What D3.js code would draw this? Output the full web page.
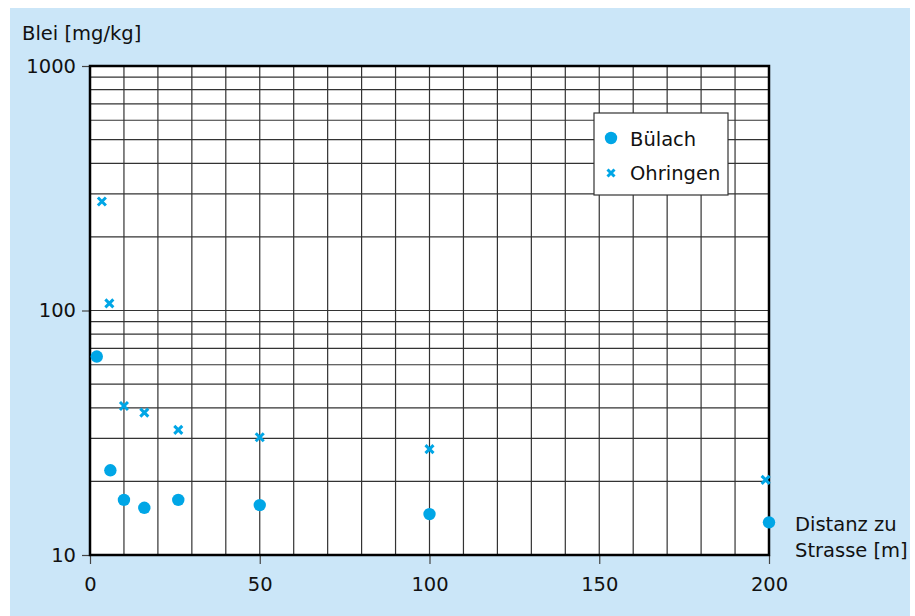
<!DOCTYPE html>
<html>
<head>
    <meta charset="UTF-8" />
    <style>
        body { margin: 0; background: #fff; }
        text { font-family: "DejaVu Sans", sans-serif; fill: #111; }
    </style>
</head>
<body>
    <script src="https://d3js.org/d3.v7.min.js"></script>
    <script>
        // donnees
        const xTicks = [0, 50, 100, 150, 200];
        const yTicks = [10, 100, 1000];
        const buelachX = [2, 6, 10, 16, 26, 50, 100, 200];
        const buelachY = [64.8, 22.2, 16.8, 15.6, 16.8, 16.0, 14.7, 13.6];
        const ohringenX = [3.5, 5.7, 10, 16, 26, 50, 100, 199];
        const ohringenY = [279, 107, 40.7, 38.2, 32.5, 30.3, 27.1, 20.3];
        const seriesNames = ["Bülach", "Ohringen"];

        const width = 915, height = 616;
        const blue = "#00a6e6";
        const fs = "19.5px";

        let svg = d3.select("body").append("svg")
            .attr("width", width)
            .attr("height", height);

        // fond bleu clair
        svg.append("rect")
            .attr("x", 10).attr("y", 8)
            .attr("width", 900).attr("height", 608)
            .attr("fill", "#cbe6f8");

        let x = d3.scaleLinear().domain([0, 200]).range([90, 769]);
        let y = d3.scaleLog().domain([10, 1000]).range([555, 66]);

        // zone blanche
        svg.append("rect")
            .attr("x", x(0)).attr("y", y(1000))
            .attr("width", x(200) - x(0)).attr("height", y(10) - y(1000))
            .attr("fill", "#fff");

        // grille verticale tous les 10 m
        svg.append("g").selectAll("line")
            .data(d3.range(10, 200, 10))
            .join("line")
            .attr("x1", d => x(d)).attr("x2", d => x(d))
            .attr("y1", y(1000)).attr("y2", y(10))
            .attr("stroke", "#333").attr("stroke-width", 1.2);

        // grille horizontale logarithmique
        let yGrid = y.ticks().filter(d => d > 10 && d < 1000);
        svg.append("g").selectAll("line")
            .data(yGrid)
            .join("line")
            .attr("x1", x(0)).attr("x2", x(200))
            .attr("y1", d => y(d)).attr("y2", d => y(d))
            .attr("stroke", "#333").attr("stroke-width", 1.2);

        // axes
        let yAxis = d3.axisLeft(y).tickValues(yTicks).tickFormat(d3.format("d")).tickSize(8).tickPadding(6);
        let gy = svg.append("g").attr("transform", `translate(${x(0)},0)`).call(yAxis);
        let xAxis = d3.axisBottom(x).tickValues(xTicks).tickSize(9).tickPadding(10);
        let gx = svg.append("g").attr("transform", `translate(0,${y(10)})`).call(xAxis);
        [gx, gy].forEach(g => {
            g.select(".domain").remove();
            g.selectAll(".tick line").attr("stroke", "#444").attr("stroke-width", 1.2);
            g.selectAll(".tick text").style("font-size", fs).style("font-family", "'DejaVu Sans', sans-serif").attr("fill", "#111");
        });
        gx.selectAll(".tick text").attr("dy", "0.85em");

        // cadre
        svg.append("rect")
            .attr("x", x(0)).attr("y", y(1000))
            .attr("width", x(200) - x(0)).attr("height", y(10) - y(1000))
            .attr("fill", "none").attr("stroke", "#000").attr("stroke-width", 2.5);

        // titres des axes
        svg.append("text").attr("x", 22).attr("y", 40).style("font-size", fs).text("Blei [mg/kg]");
        svg.append("text").attr("x", 795).attr("y", 531).style("font-size", fs).text("Distanz zu");
        svg.append("text").attr("x", 795).attr("y", 557).style("font-size", fs).text("Strasse [m]");

        // croix
        function cross(s) {
            return `M${-s},${-s}L${s},${s}M${-s},${s}L${s},${-s}`;
        }

        // points Bülach
        svg.append("g").selectAll("circle")
            .data(buelachX.map((d, i) => [d, buelachY[i]]))
            .join("circle")
            .attr("cx", d => x(d[0])).attr("cy", d => y(d[1]))
            .attr("r", 6.2)
            .attr("fill", blue);

        // points Ohringen
        svg.append("g").selectAll("path")
            .data(ohringenX.map((d, i) => [d, ohringenY[i]]))
            .join("path")
            .attr("transform", d => `translate(${x(d[0])},${y(d[1])})`)
            .attr("d", cross(4))
            .attr("stroke", blue).attr("stroke-width", 3)
            .attr("fill", "none");

        // legende
        let legend = svg.append("g").attr("transform", "translate(594,113)");
        legend.append("rect")
            .attr("width", 134).attr("height", 82)
            .attr("fill", "#fff").attr("stroke", "#333").attr("stroke-width", 1.2);
        legend.append("circle").attr("cx", 17).attr("cy", 25).attr("r", 6.2).attr("fill", blue);
        legend.append("path").attr("transform", "translate(17,60)")
            .attr("d", cross(3.5)).attr("stroke", blue).attr("stroke-width", 3);
        legend.selectAll("text.lab")
            .data(seriesNames)
            .join("text")
            .attr("class", "lab")
            .attr("x", 36).attr("y", (d, i) => 33 + i * 34)
            .style("font-size", fs)
            .text(d => d);
    </script>
</body>
</html>
